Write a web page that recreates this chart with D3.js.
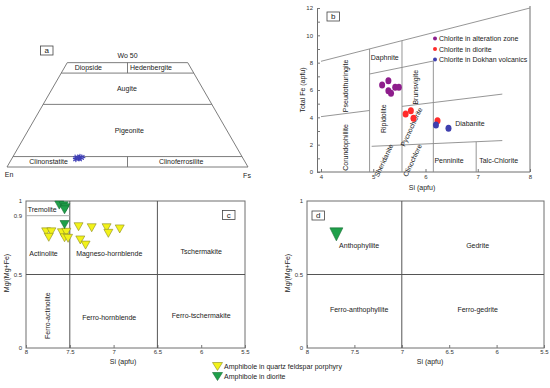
<!DOCTYPE html>
<html>
<head>
<meta charset="utf-8">
<script src="https://cdn.jsdelivr.net/npm/d3@7.9.0/dist/d3.min.js"></script>
<style>
  body { margin: 0; background: #fff; }
  svg { font-family: "Liberation Sans", Arial, sans-serif; }
  .tick text { font-size: 6px; fill: #333; }
  .tick line { stroke: #777; }
  .lbl { font-size: 7px; fill: #222; }
</style>
</head>
<body>
<svg id="chart" width="550" height="388"></svg>
<script>
// --- panel a: pyroxene quadrilateral (Wo %, Fs %)
const pyxBoundaries = [45, 30, 5];
const pyxPoints = [[4.6, 26.2], [4.1, 27.8], [5.0, 27.6], [3.7, 26.6], [4.7, 29.0], [3.9, 28.4]];
const pyxFields = [
  { name: 'Diopside', wo: 47.5, fs: 10 },
  { name: 'Hedenbergite', wo: 47.5, fs: 36 },
  { name: 'Augite', wo: 37.5, fs: 31 },
  { name: 'Pigeonite', wo: 17.5, fs: 42 },
  { name: 'Clinonstatite', wo: 2.5, fs: 16 },
  { name: 'Clinoferrosilite', wo: 2.5, fs: 71 }
];

// --- panel b: chlorite (Si apfu, total Fe apfu)
const chlAlteration = [[5.17, 6.36], [5.29, 6.68], [5.29, 5.95], [5.34, 5.76], [5.42, 6.2], [5.49, 6.2]];
const chlDiorite = [[5.62, 4.24], [5.72, 4.48], [5.77, 3.93], [6.23, 3.75]];
const chlDokhan = [[6.2, 3.44], [6.44, 3.2]];
const chlSeries = ['Chlorite in alteration zone', 'Chlorite in diorite', 'Chlorite in Dokhan volcanics'];
const chlBoundaries = [
  [[4, 8.1], [8, 12]],
  [[4, 4.05], [4.93, 4.5]],
  [[4.93, 0], [4.93, 9.0]],
  [[5.55, 0], [5.55, 9.6]],
  [[6.15, 0], [6.15, 8.12]],
  [[4.93, 7.17], [6.15, 8.12]],
  [[5.55, 4.8], [7.47, 5.7]],
  [[4.97, 1.88], [7.47, 2.3]],
  [[6.97, 0], [6.97, 2.2]]
];
const chlFields = [
  { name: 'Pseudothuringite', si: 4.47, fe: 6.3, rot: -90 },
  { name: 'Corundophillite', si: 4.47, fe: 1.8, rot: -90 },
  { name: 'Daphnite', si: 5.22, fe: 8.4, rot: 0 },
  { name: 'Ripidolite', si: 5.2, fe: 3.9, rot: -90 },
  { name: 'Brunsvigite', si: 5.8, fe: 6.2, rot: -90 },
  { name: 'Pycnochlorite', si: 5.73, fe: 3.3, rot: -65 },
  { name: 'Sheridanite', si: 5.2, fe: 0.85, rot: -65 },
  { name: 'Clinochlore', si: 5.75, fe: 0.85, rot: -65 },
  { name: 'Diabanite', si: 6.85, fe: 3.55, rot: 0 },
  { name: 'Penninite', si: 6.45, fe: 0.85, rot: 0 },
  { name: 'Talc-Chlorite', si: 7.4, fe: 0.85, rot: 0 }
];

// --- panel c/d: amphibole (Si apfu, Mg/(Mg+Fe))
const amphPorphyry = [
  [7.77, 0.79], [7.71, 0.79], [7.74, 0.753], [7.59, 0.784], [7.54, 0.787], [7.56, 0.75], [7.52, 0.746],
  [7.40, 0.825], [7.25, 0.818], [7.08, 0.818], [7.06, 0.78], [6.93, 0.81], [7.38, 0.735], [7.32, 0.70]
];
const amphDiorite = [[7.62, 0.972], [7.57, 0.967], [7.55, 0.954], [7.56, 0.94], [7.56, 0.84]];
const amphDioriteD = [[7.69, 0.773]];
const amphSeries = ['Amphibole in quartz feldspar porphyry', 'Amphibole in diorite'];
const calcFields = [
  { name: 'Tremolite', si: 7.98, mg: 0.945, rot: 0, anchor: 'start' },
  { name: 'Actinolite', si: 7.8, mg: 0.64, rot: 0 },
  { name: 'Magneso-hornblende', si: 7.05, mg: 0.64, rot: 0 },
  { name: 'Tschermakite', si: 6.0, mg: 0.655, rot: 0 },
  { name: 'Ferro-actinolite', si: 7.75, mg: 0.22, rot: -90 },
  { name: 'Ferro-hornblende', si: 7.05, mg: 0.21, rot: 0 },
  { name: 'Ferro-tschermakite', si: 6.0, mg: 0.22, rot: 0 }
];
const fmFields = [
  { name: 'Anthophyllite', si: 7.45, mg: 0.7 },
  { name: 'Gedrite', si: 6.2, mg: 0.7 },
  { name: 'Ferro-anthophyllite', si: 7.45, mg: 0.26 },
  { name: 'Ferro-gedrite', si: 6.2, mg: 0.26 }
];
const siTicks = [8, 7.5, 7, 6.5, 6, 5.5];

const svg = d3.select('#chart');
const lineCol = '#6e6e6e';

function labelBox(g, x, y, t) {
  g.append('rect').attr('x', x).attr('y', y).attr('width', 12.5).attr('height', 9)
    .attr('fill', '#fff').attr('stroke', '#444').attr('stroke-width', 0.8);
  g.append('text').attr('x', x + 6.25).attr('y', y + 7).attr('text-anchor', 'middle')
    .attr('font-size', 8).attr('fill', '#222').text(t);
}

// ================= panel a
(function () {
  const g = svg.append('g');
  const x = d3.scaleLinear().domain([0, 100]).range([7, 248]);
  const y = d3.scaleLinear().domain([0, 100]).range([167, 167 - 241 * Math.sqrt(3) / 2]);
  const px = (wo, fs) => [x(fs + wo / 2), y(wo)];
  const seg = (a, b) => g.append('line')
    .attr('x1', a[0]).attr('y1', a[1]).attr('x2', b[0]).attr('y2', b[1])
    .attr('stroke', lineCol).attr('stroke-width', 0.9);

  g.append('path')
    .attr('d', d3.line()([px(0, 0), px(0, 100), px(50, 50), px(50, 0), px(0, 0)]))
    .attr('fill', 'none').attr('stroke', lineCol).attr('stroke-width', 0.9);
  pyxBoundaries.forEach(w => seg(px(w, 0), px(w, 100 - w)));
  seg(px(45, 27.5), px(50, 25));
  seg(px(0, 50), px(5, 47.5));

  pyxFields.forEach(f => {
    const p = px(f.wo, f.fs);
    g.append('text').attr('class', 'lbl').attr('x', p[0]).attr('y', p[1] + 2.5)
      .attr('text-anchor', 'middle').text(f.name);
  });
  g.append('text').attr('class', 'lbl').attr('x', px(50, 25)[0]).attr('y', px(50, 25)[1] - 5)
    .attr('text-anchor', 'middle').text('Wo 50');
  g.append('text').attr('class', 'lbl').attr('x', 9).attr('y', 177).attr('text-anchor', 'middle').text('En');
  g.append('text').attr('class', 'lbl').attr('x', 247).attr('y', 178).attr('text-anchor', 'middle').text('Fs');

  const star = d3.symbol().type(d3.symbolAsterisk).size(22);
  pyxPoints.forEach(d => {
    const p = px(d[0], d[1]);
    g.append('path').attr('d', star).attr('transform', `translate(${p[0]},${p[1]}) rotate(${d[1] * 20})`)
      .attr('fill', 'none').attr('stroke', '#3d3db5').attr('stroke-width', 1.1);
  });
  labelBox(g, 40.5, 46, 'a');
})();

// ================= panel b
(function () {
  const g = svg.append('g');
  const x = d3.scaleLinear().domain([4, 8]).range([321, 530]);
  const y = d3.scaleLinear().domain([0, 12]).range([172, 8]);

  g.append('g').attr('transform', 'translate(317,0)')
    .call(d3.axisLeft(y).tickValues(d3.range(0, 13)).tickFormat(d => d % 2 ? '' : d)
      .tickSizeInner(-3).tickSizeOuter(0).tickPadding(4))
    .call(a => a.select('.domain').attr('stroke', lineCol));
  g.append('g').attr('transform', 'translate(0,172)')
    .call(d3.axisBottom(x).tickValues([4, 5, 6, 7, 8]).tickFormat(d3.format('d'))
      .tickSizeInner(-3).tickSizeOuter(0).tickPadding(3))
    .call(a => a.select('.domain').remove());
  g.append('line').attr('x1', 317).attr('x2', 530).attr('y1', 172).attr('y2', 172).attr('stroke', lineCol);
  g.append('line').attr('x1', 530).attr('x2', 530).attr('y1', 6).attr('y2', 172).attr('stroke', lineCol);

  chlBoundaries.forEach(b => g.append('line')
    .attr('x1', x(b[0][0])).attr('y1', y(b[0][1])).attr('x2', x(b[1][0])).attr('y2', y(b[1][1]))
    .attr('stroke', '#8a8a8a').attr('stroke-width', 0.9));

  chlFields.forEach(f => {
    g.append('text').attr('class', 'lbl')
      .attr('transform', `translate(${x(f.si)},${y(f.fe)}) rotate(${f.rot})`)
      .attr('text-anchor', 'middle').attr('dy', 2.5).text(f.name);
  });

  const cols = ['#8e1d8c', '#ff2b2b', '#3f3fae'];
  [chlAlteration, chlDiorite, chlDokhan].forEach((s, i) => {
    g.selectAll(null).data(s).join('ellipse')
      .attr('cx', d => x(d[0])).attr('cy', d => y(d[1])).attr('rx', 3).attr('ry', 3.5)
      .attr('fill', cols[i]);
    g.append('circle').attr('cx', 435).attr('cy', 38.5 + i * 10.5).attr('r', 2).attr('fill', cols[i]);
    g.append('text').attr('class', 'lbl').attr('x', 439).attr('y', 41 + i * 10.5).text(chlSeries[i]);
  });

  g.append('text').attr('class', 'lbl').attr('x', 422).attr('y', 190).attr('text-anchor', 'middle').text('Si (apfu)');
  g.append('text').attr('class', 'lbl').attr('transform', 'translate(305,90) rotate(-90)')
    .attr('text-anchor', 'middle').text('Total Fe (apfu)');
  labelBox(g, 327, 12, 'b');
})();

// ================= panels c and d
function amphPanel(left, right, yTicks, titleX) {
  const g = svg.append('g');
  const x = d3.scaleLinear().domain([8, 5.5]).range([left, right]);
  const y = d3.scaleLinear().domain([0, 1]).range([348, 201]);
  g.append('rect').attr('x', left).attr('y', 201).attr('width', right - left).attr('height', 147)
    .attr('fill', 'none').attr('stroke', lineCol).attr('stroke-width', 1);
  g.append('g').attr('transform', 'translate(0,348)')
    .call(d3.axisBottom(x).tickValues(siTicks).tickFormat(d3.format('')).tickSizeInner(-3).tickSizeOuter(0).tickPadding(2))
    .call(a => a.select('.domain').remove());
  g.append('g').attr('transform', `translate(${left},0)`)
    .call(d3.axisLeft(y).tickValues(yTicks).tickFormat(d3.format('')).tickSizeInner(0).tickSizeOuter(0).tickPadding(4))
    .call(a => a.select('.domain').remove());
  g.append('text').attr('class', 'lbl').attr('x', titleX).attr('y', 363.5)
    .attr('text-anchor', 'middle').text('Si (apfu)');
  g.append('text').attr('class', 'lbl').attr('transform', `translate(${left - 17},273) rotate(-90)`)
    .attr('text-anchor', 'middle').text('Mg/(Mg+Fe)');
  return { g, x, y };
}

function tri(g, x, y, data, fill, stroke, w, h) {
  g.selectAll(null).data(data).join('path')
    .attr('d', d => {
      const cx = x(d[0]), cy = y(d[1]);
      return `M${cx - w},${cy - h / 2}L${cx + w},${cy - h / 2}L${cx},${cy + h / 2}Z`;
    })
    .attr('fill', fill).attr('stroke', stroke).attr('stroke-width', 0.6);
}

(function () {
  const { g, x, y } = amphPanel(26, 245, [0, 0.5, 0.9, 1], 123);
  const ln = (x1, y1, x2, y2, c) => g.append('line')
    .attr('x1', x(x1)).attr('y1', y(y1)).attr('x2', x(x2)).attr('y2', y(y2))
    .attr('stroke', c).attr('stroke-width', 1);
  ln(7.5, 0, 7.5, 1, '#555');
  ln(6.5, 0, 6.5, 1, '#555');
  ln(8, 0.5, 5.5, 0.5, '#555');
  ln(8, 0.9, 7.5, 0.9, '#aaa');
  calcFields.forEach(f => {
    g.append('text').attr('class', 'lbl')
      .attr('transform', `translate(${x(f.si)},${y(f.mg)}) rotate(${f.rot})`)
      .attr('text-anchor', f.anchor || 'middle').attr('dy', 2.5).text(f.name);
  });
  tri(g, x, y, amphPorphyry, '#f2f21a', '#8a8a20', 4.5, 8);
  tri(g, x, y, amphDiorite, '#1fa04a', '#156b32', 4.5, 8);
  labelBox(g, 222.5, 210.5, 'c');

  // legend
  const cols = [['#f2f21a', '#8a8a20'], ['#1fa04a', '#156b32']];
  amphSeries.forEach((s, i) => {
    const cy = 366.5 + i * 10;
    g.append('path').attr('d', `M212.5,${cy - 4}L222.5,${cy - 4}L217.5,${cy + 4}Z`)
      .attr('fill', cols[i][0]).attr('stroke', cols[i][1]).attr('stroke-width', 0.6);
    g.append('text').attr('class', 'lbl').attr('x', 224).attr('y', cy + 2.5).text(s);
  });
})();

(function () {
  const { g, x, y } = amphPanel(307, 544, [0, 0.5, 1], 430);
  const ln = (x1, y1, x2, y2) => g.append('line')
    .attr('x1', x(x1)).attr('y1', y(y1)).attr('x2', x(x2)).attr('y2', y(y2))
    .attr('stroke', '#555').attr('stroke-width', 1);
  ln(7, 0, 7, 1);
  ln(8, 0.5, 5.5, 0.5);
  fmFields.forEach(f => {
    g.append('text').attr('class', 'lbl').attr('x', x(f.si)).attr('y', y(f.mg) + 2.5)
      .attr('text-anchor', 'middle').text(f.name);
  });
  tri(g, x, y, amphDioriteD, '#1fa04a', '#156b32', 6.5, 13);
  labelBox(g, 312, 211, 'd');
})();
</script>
</body>
</html>
